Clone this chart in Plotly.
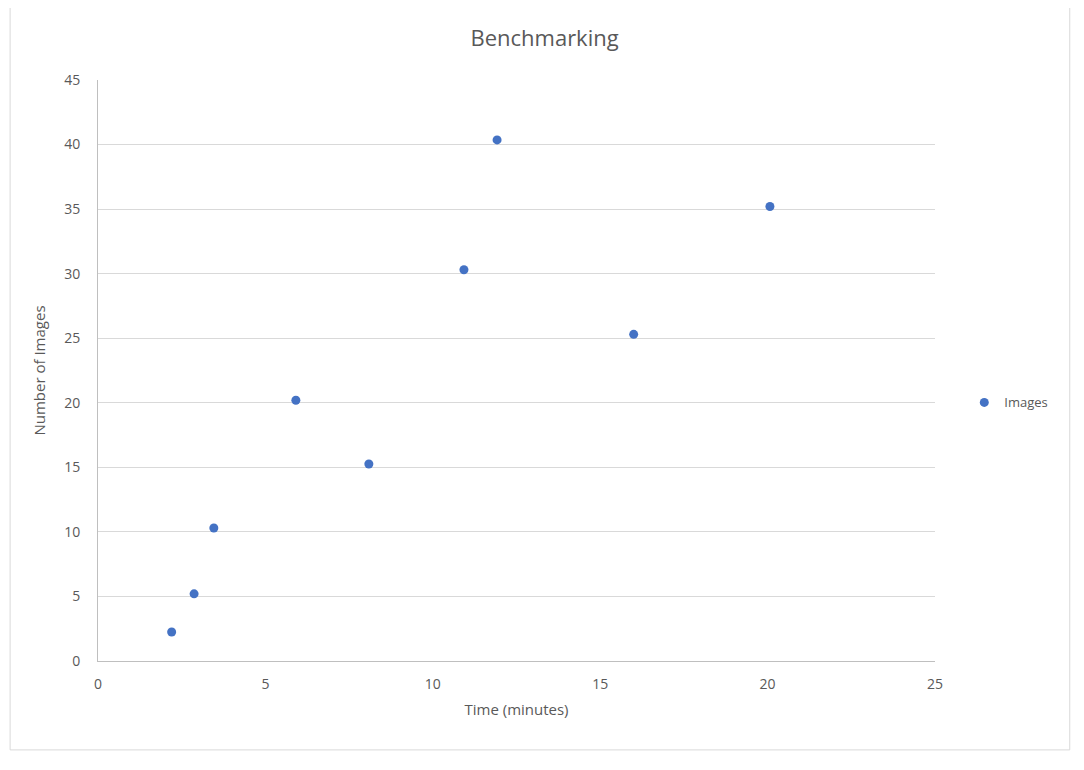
import plotly.graph_objects as go

time_min = [2.2, 2.87, 3.46, 5.91, 8.09, 10.93, 11.92, 16.0, 20.07]
images = [2.25, 5.2, 10.3, 20.2, 15.26, 30.3, 40.36, 25.3, 35.2]

fig = go.Figure(go.Scatter(x=time_min, y=images, mode="markers", name="Images",
                           marker=dict(color="#4472C4", size=9)))
fnt = "Open Sans, Liberation Sans, sans-serif"
fig.update_layout(
    width=1084, height=770, paper_bgcolor="white", plot_bgcolor="white",
    margin=dict(l=90, r=157, t=72, b=117),
    title=dict(text="Benchmarking", x=0.495, xanchor="center", y=0.961, yanchor="middle",
               font=dict(family=fnt, size=22, color="#595959")),
    font=dict(family=fnt, size=14, color="#595959"),
    showlegend=True,
    legend=dict(x=1.035, y=0.445, xanchor="left", yanchor="middle", font=dict(size=13),
                itemwidth=30),
    xaxis=dict(range=[0, 25], dtick=5, showgrid=False, zeroline=False, showline=True,
               linecolor="#BFBFBF", ticklabelstandoff=10,
               title=dict(text="Time (minutes)", font=dict(size=15), standoff=12)),
    yaxis=dict(range=[0, 45], dtick=5, showgrid=True, gridcolor="#D9D9D9", zeroline=False,
               showline=True, linecolor="#BFBFBF", ticklabelstandoff=14,
               title=dict(text="Number of Images", font=dict(size=15), standoff=14)),
)
fig.add_shape(type="rect", xref="paper", yref="paper", x0=-0.105, x1=1.161, y0=-0.153, y1=1.129,
              line=dict(color="#D9D9D9", width=1))
fig.write_html("out.html")
